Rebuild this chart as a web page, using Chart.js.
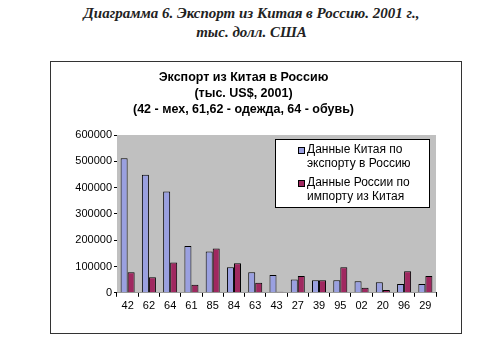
<!DOCTYPE html>
<html>
<head>
<meta charset="utf-8">
<script src="https://cdn.jsdelivr.net/npm/chart.js@4/dist/chart.umd.min.js"></script>
<style>
  body { margin: 0; background: #fff; width: 503px; height: 351px; position: relative; overflow: hidden; }
  #caption {
    position: absolute; left: 0; top: 4px; width: 503px; text-align: center;
    font: italic bold 15px "Liberation Serif", "DejaVu Serif", serif; line-height: 19px; color: #222;
  }
  #frame {
    position: absolute; left: 50px; top: 61px; width: 410px; height: 271px;
    border: 1px solid #333;
  }
  #chart { display: block; }
</style>
</head>
<body>
<div id="caption">Диаграмма 6. Экспорт из Китая в Россию. 2001 г.,<br>тыс. долл. США</div>
<div id="frame"><canvas id="chart" width="410" height="271"></canvas></div>
<script>
const categories = ["42", "62", "64", "61", "85", "84", "63", "43", "27", "39", "95", "02", "20", "96", "29"];
const chinaExport = [512000, 449000, 385000, 178000, 157000, 97000, 78000, 68000, 51000, 48000, 48000, 44000, 40000, 33000, 33000];
const russiaImport = [78000, 59000, 115000, 31000, 168000, 112000, 38000, 4000, 64000, 48000, 97000, 19000, 11000, 82000, 64000];
const seriesNames = [
  ["Данные Китая по", "экспорту в Россию"],
  ["Данные России по", "импорту из Китая"]
];
const titleLines = ["Экспорт из Китая в Россию", "(тыс. US$, 2001)", "(42 - мех, 61,62 - одежда, 64 - обувь)"];

const FONT = "'Liberation Sans', Arial, sans-serif";

// gray plot area like Excel
const plotBg = {
  id: "plotBg",
  beforeDatasetsDraw(chart) {
    const a = chart.chartArea, ctx = chart.ctx;
    ctx.save();
    ctx.fillStyle = "#c0c0c0";
    ctx.fillRect(a.left, a.top, a.right - a.left, a.bottom - a.top);
    ctx.restore();
  }
};

// legend box drawn inside the plot area
const boxLegend = {
  id: "boxLegend",
  afterDraw(chart) {
    const ctx = chart.ctx;
    const x = 224, y = 77, w = 154, h = 68;
    ctx.save();
    ctx.fillStyle = "#fff";
    ctx.fillRect(x, y, w, h);
    ctx.strokeStyle = "#000";
    ctx.lineWidth = 1;
    ctx.strokeRect(x + 0.5, y + 0.5, w, h);
    ctx.font = "12px " + FONT;
    ctx.textBaseline = "middle";
    chart.data.datasets.forEach((ds, i) => {
      const ly = y + 11 + i * 33;
      ctx.fillStyle = ds.backgroundColor;
      ctx.fillRect(x + 23, ly - 3, 6, 6);
      ctx.strokeStyle = "#000";
      ctx.strokeRect(x + 23.5, ly - 2.5, 6, 6);
      ctx.fillStyle = "#000";
      ds.label.forEach((t, k) => ctx.fillText(t, x + 32, ly + k * 14));
    });
    ctx.restore();
  }
};

new Chart(document.getElementById("chart"), {
  type: "bar",
  plugins: [plotBg, boxLegend],
  data: {
    labels: categories,
    datasets: [
      { label: seriesNames[0], data: chinaExport, backgroundColor: "#9aa0e0", borderColor: "#000", borderWidth: 1 },
      { label: seriesNames[1], data: russiaImport, backgroundColor: "#a02860", borderColor: "#000", borderWidth: 1 }
    ]
  },
  options: {
    responsive: false,
    animation: false,
    layout: { padding: { left: 0, right: 25, top: 0, bottom: 17 } },
    datasets: { bar: { categoryPercentage: 0.66, barPercentage: 1 } },
    plugins: {
      legend: { display: false },
      tooltip: { enabled: false },
      title: {
        display: true,
        text: titleLines,
        color: "#000",
        font: { family: FONT, size: 12.5, weight: "bold", lineHeight: 1.28 },
        padding: { top: 8, bottom: 17 }
      }
    },
    scales: {
      x: {
        grid: { offset: true, drawOnChartArea: false, drawTicks: true, tickLength: 4, color: "#000" },
        border: { color: "#000" },
        ticks: { color: "#000", font: { family: FONT, size: 11 }, maxRotation: 0, autoSkip: false, padding: 3 }
      },
      y: {
        min: 0, max: 600000,
        afterFit(s) { s.width = 66; },
        grid: { drawOnChartArea: false, drawTicks: true, tickLength: 3, color: "#000" },
        border: { color: "#000" },
        ticks: { stepSize: 100000, color: "#000", font: { family: FONT, size: 11 }, padding: 2,
                 callback: v => String(v) }
      }
    }
  }
});
</script>
</body>
</html>
